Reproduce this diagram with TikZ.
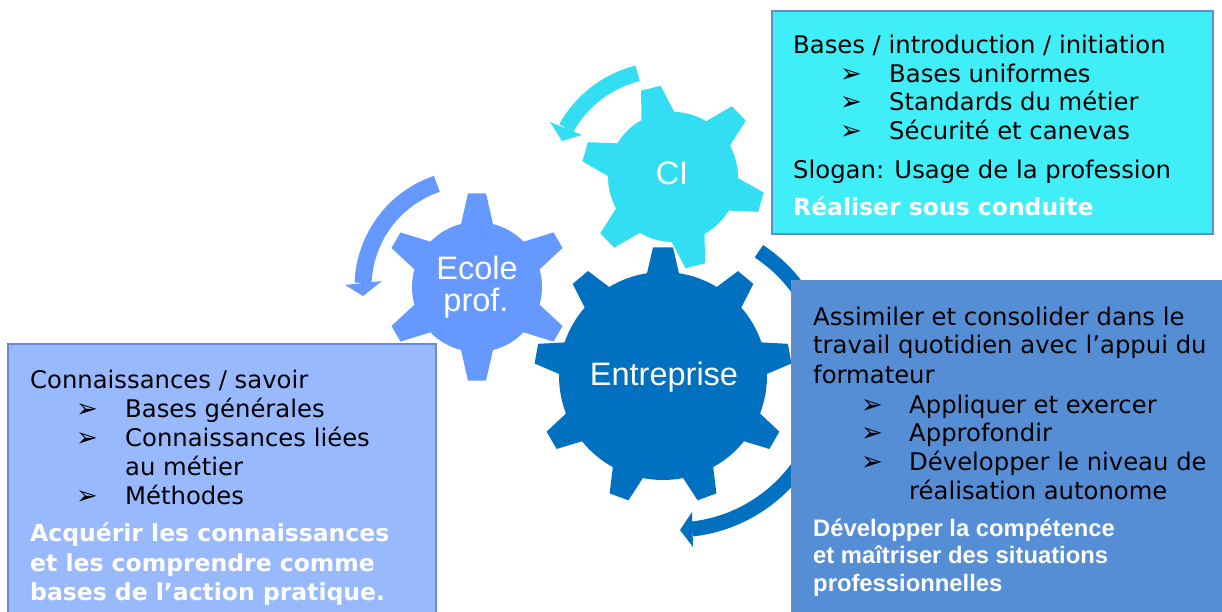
\documentclass[tikz,border=0pt]{standalone}
\usepackage{fontspec}
\setmainfont{DejaVu Sans}
\newfontfamily\arialf{Liberation Sans}
\newfontfamily\dejav{DejaVu Sans}
\usetikzlibrary{calc}
\definecolor{cicol}{RGB}{51,222,242}
\definecolor{ecol}{RGB}{102,153,255}
\definecolor{entcol}{RGB}{0,112,192}
\definecolor{topfill}{RGB}{64,238,248}
\definecolor{leftfill}{RGB}{153,185,255}
\definecolor{rightfill}{RGB}{85,142,213}
\definecolor{boxline}{RGB}{100,140,200}
\newcommand{\drawgear}[9]{%
 \begin{scope}[shift={(#2,#3)},yscale=-1]
  \pgfmathsetmacro{\gs}{360/#4}%
  \pgfmathsetmacro{\gb}{asin(#8/#6)}%
  \pgfmathsetmacro{\gt}{asin(#9/#7)}%
  \pgfmathtruncatemacro{\gn}{#4-1}%
  \fill[#1] ({#5-\gb}:#6) \foreach \k in {0,...,\gn}{
     -- ({#5+\k*\gs-\gt}:#7) -- ({#5+\k*\gs+\gt}:#7) -- ({#5+\k*\gs+\gb}:#6)
     arc[start angle={#5+\k*\gs+\gb}, end angle={#5+(\k+1)*\gs-\gb}, radius=#6]
  } -- cycle;
 \end{scope}}
\tikzset{
  txt/.style={anchor=base west, inner sep=0pt, font=\dejav\fontsize{24.3}{28}\selectfont, text=black},
  btxt/.style={anchor=base west, inner sep=0pt, font=\dejav\bfseries\fontsize{23.5}{28}\selectfont, text=white},
  atxt/.style={anchor=base west, inner sep=0pt, font=\arialf\bfseries\fontsize{23.8}{28}\selectfont, text=white},
  bul/.style={anchor=base west, inner sep=0pt, font=\dejav\fontsize{26}{28}\selectfont, text=black},
  glab/.style={anchor=base, inner sep=0pt, font=\arialf\fontsize{32.5}{36}\selectfont, text=white},
  panel/.style={draw=boxline, line width=1.5pt},
}
\begin{document}
\begin{tikzpicture}[x=1pt,y=-1pt]
\useasboundingbox (0,0) rectangle (1222,612);
\fill[white] (0,0) rectangle (1222,612);
% rotation arrows
\begin{scope}[shift={(665,183)},yscale=-1]
 \draw[cicol, line width=16pt] (104:113) arc[start angle=104, end angle=151, radius=113];
\end{scope}
\fill[cicol] (550,122) -- (582,135) -- (562,141) -- cycle;
\begin{scope}[shift={(472,287)},yscale=-1]
 \draw[ecol, line width=17pt] (108.8:109) arc[start angle=108.8, end angle=177.9, radius=109];
\end{scope}
\fill[ecol] (345,285) -- (382,281) -- (363,296) -- cycle;
\begin{scope}[shift={(675,378)},yscale=-1]
 \draw[entcol, line width=15pt] (56.5:152) arc[start angle=56.5, end angle=-83.6, radius=152];
\end{scope}
\fill[entcol] (692,512) -- (693,547) -- (680,530) -- cycle;
% gears
\drawgear{ecol}{477}{287}{6}{90}{65}{94}{16}{9}
\drawgear{cicol}{673}{177}{6}{104}{65}{92}{17}{10}
\drawgear{entcol}{663}{376}{9}{90}{104}{129}{16}{10}
\node[glab] (gci) at (672,185) {CI};
\node[glab] (gec1) at (477,279) {Ecole};
\node[glab] (gec2) at (476,311) {prof.};
\node[glab] (gent) at (664,385) {Entreprise};
% top box
\draw[panel, fill=topfill] (772,11) rectangle (1213,234);
\node[txt] (a1) at (793,54) {Bases / introduction / initiation};
\node[bul] (ab1) at (840,82.7) {➢};
\node[txt] (a2) at (889,82.7) {Bases uniformes};
\node[bul] (ab2) at (840,111) {➢};
\node[txt] (a3) at (889,111) {Standards du métier};
\node[bul] (ab3) at (840,139.3) {➢};
\node[txt] (a4) at (889,139.3) {Sécurité et canevas};
\node[txt] (a5) at (793,178.3) {Slogan: Usage de la profession};
\node[btxt] (a6) at (793,216) {Réaliser sous conduite};
% left box
\draw[panel, fill=leftfill] (8,344) rectangle (436,630);
\node[txt] (b1) at (30,388.3) {Connaissances / savoir};
\node[bul] (bb1) at (76,417.3) {➢};
\node[txt] (b2) at (125,417.3) {Bases générales};
\node[bul] (bb2) at (76,446) {➢};
\node[txt] (b3) at (125,446) {Connaissances liées};
\node[txt] (b4) at (125,475) {au métier};
\node[bul] (bb3) at (76,504) {➢};
\node[txt] (b5) at (125,504) {Méthodes};
\node[btxt] (b6) at (30,541.7) {Acquérir les connaissances};
\node[btxt] (b7) at (30,571.7) {et les comprendre comme};
\node[btxt] (b8) at (30,600) {bases de l’action pratique.};
% right box
\draw[panel, fill=rightfill] (792,281) rectangle (1240,630);
\node[txt] (c1) at (813,325) {Assimiler et consolider dans le};
\node[txt] (c2) at (813,353.3) {travail quotidien avec l’appui du};
\node[txt] (c3) at (813,383.3) {formateur};
\node[bul] (cb1) at (861,413.3) {➢};
\node[txt] (c4) at (909,413.3) {Appliquer et exercer};
\node[bul] (cb2) at (861,441.7) {➢};
\node[txt] (c5) at (909,441.7) {Approfondir};
\node[bul] (cb3) at (861,470.7) {➢};
\node[txt] (c6) at (909,470.7) {Développer le niveau de};
\node[txt] (c7) at (909,499.3) {réalisation autonome};
\node[atxt] (c8) at (813,536) {Développer la compétence};
\node[atxt] (c9) at (813,563.3) {et maîtriser des situations};
\node[atxt] (c10) at (813,591.7) {professionnelles};
\end{tikzpicture}
\end{document}
